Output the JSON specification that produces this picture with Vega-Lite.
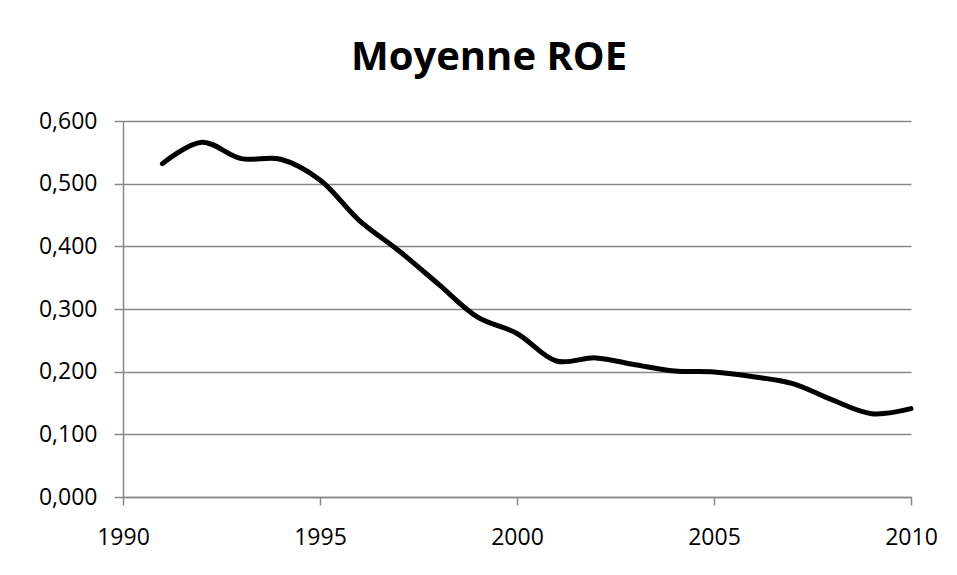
{
  "$schema": "https://vega.github.io/schema/vega-lite/v6.json",
  "width": 788,
  "height": 376,
  "autosize": "none",
  "padding": {"left": 123, "top": 121, "right": 46, "bottom": 78},
  "background": "white",
  "config": {"view": {"stroke": null}, "font": "Open Sans"},
  "title": {
    "text": "Moyenne ROE",
    "font": "Open Sans",
    "fontSize": 40,
    "fontWeight": "bold",
    "color": "black",
    "anchor": "middle",
    "dx": -28,
    "baseline": "alphabetic",
    "offset": 0
  },
  "data": {
    "values": [
      {"year": 1991, "roe": 0.532},
      {"year": 1992, "roe": 0.566},
      {"year": 1993, "roe": 0.540},
      {"year": 1994, "roe": 0.539},
      {"year": 1995, "roe": 0.506},
      {"year": 1996, "roe": 0.441},
      {"year": 1997, "roe": 0.393},
      {"year": 1998, "roe": 0.340},
      {"year": 1999, "roe": 0.287},
      {"year": 2000, "roe": 0.261},
      {"year": 2001, "roe": 0.217},
      {"year": 2002, "roe": 0.222},
      {"year": 2003, "roe": 0.211},
      {"year": 2004, "roe": 0.201},
      {"year": 2005, "roe": 0.1995},
      {"year": 2006, "roe": 0.192},
      {"year": 2007, "roe": 0.181},
      {"year": 2008, "roe": 0.155},
      {"year": 2009, "roe": 0.133},
      {"year": 2010, "roe": 0.141}
    ]
  },
  "mark": {"type": "line", "color": "black", "strokeWidth": 5, "interpolate": "catmull-rom", "strokeCap": "round", "strokeJoin": "round"},
  "encoding": {
    "x": {
      "field": "year",
      "type": "quantitative",
      "scale": {"domain": [1990, 2010], "nice": false, "zero": false},
      "axis": {
        "title": null,
        "values": [1990, 1995, 2000, 2005, 2010],
        "format": "d",
        "grid": false,
        "domainColor": "#888888",
        "domainWidth": 1.5,
        "tickColor": "#888888",
        "tickWidth": 1.5,
        "tickSize": 8,
        "labelFont": "Open Sans",
        "labelFontSize": 23,
        "labelColor": "black",
        "labelPadding": 21,
        "labelFlush": false
      }
    },
    "y": {
      "field": "roe",
      "type": "quantitative",
      "scale": {"domain": [0, 0.6], "nice": false},
      "axis": {
        "title": null,
        "values": [0, 0.1, 0.2, 0.3, 0.4, 0.5, 0.6],
        "labelExpr": "replace(format(datum.value, '.3f'), '.', ',')",
        "grid": true,
        "gridColor": "#888888",
        "gridWidth": 1.5,
        "domainColor": "#888888",
        "domainWidth": 1.5,
        "tickColor": "#888888",
        "tickWidth": 1.5,
        "tickSize": 9,
        "labelFont": "Open Sans",
        "labelFontSize": 23,
        "labelColor": "black",
        "labelPadding": 17
      }
    }
  }
}
